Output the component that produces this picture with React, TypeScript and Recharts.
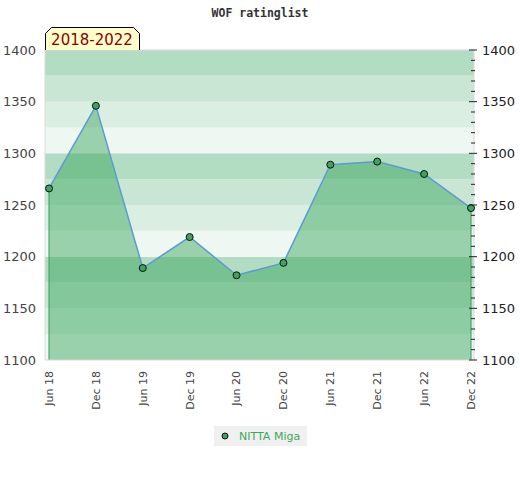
import React from "react";
import { ComposedChart, Area, XAxis, YAxis, ReferenceArea, ReferenceLine } from "recharts";

const categories = ["Jun 18", "Dec 18", "Jun 19", "Dec 19", "Jun 20", "Dec 20", "Jun 21", "Dec 21", "Jun 22", "Dec 22"];
const ratings = [1266, 1346, 1189, 1219, 1182, 1194, 1289, 1292, 1280, 1247];
const leftTicks = [1100, 1150, 1200, 1250, 1300, 1350, 1400];
const rightTicks = [
  1100, 1110, 1120, 1130, 1140, 1150, 1160, 1170, 1180, 1190,
  1200, 1210, 1220, 1230, 1240, 1250, 1260, 1270, 1280, 1290,
  1300, 1310, 1320, 1330, 1340, 1350, 1360, 1370, 1380, 1390, 1400,
];
const bandEdges = [1100, 1125, 1150, 1175, 1200, 1225, 1250, 1275, 1300, 1325, 1350, 1375, 1400];
const bandColors = ["#eff7f2", "#dbeee2", "#c8e6d3", "#b3ddc3"];
const seriesName = "NITTA Miga";
const periodLabel = "2018-2022";
const title = "WOF ratinglist";

const data = categories.map((cat, i) => ({ cat, rating: ratings[i] }));

const font = "'DejaVu Sans', sans-serif";

const LeftTick = (props: any) => {
  const { x, y, payload } = props;
  return (
    <text x={x - 9} y={y} dy="0.35em" textAnchor="end" fontSize={13} fill="#444" fontFamily={font}>
      {payload.value}
    </text>
  );
};

const RightTick = (props: any) => {
  const { x, y, payload } = props;
  const major = payload.value % 50 === 0;
  return (
    <g>
      <line x1={major ? x - 5 : x - 3} x2={major ? x + 3 : x + 1} y1={y} y2={y} stroke="#222" strokeWidth={1} />
      {major && (
        <text x={x + 8} y={y} dy="0.35em" textAnchor="start" fontSize={13} fill="#222" fontFamily={font}>
          {payload.value}
        </text>
      )}
    </g>
  );
};

const BottomTick = (props: any) => {
  const { x, y, payload } = props;
  const ty = y + 11;
  return (
    <text
      x={x}
      y={ty}
      dy="0.35em"
      textAnchor="end"
      fontSize={11}
      fill="#444"
      fontFamily={font}
      transform={`rotate(-90, ${x}, ${ty})`}
    >
      {payload.value}
    </text>
  );
};

export default function App() {
  const bands = bandEdges.slice(0, -1).map((lo, i) => ({ lo, hi: bandEdges[i + 1], color: bandColors[i % 4] }));
  return (
    <div style={{ position: "absolute", left: 0, top: 0, width: 520, height: 480, background: "#fff" }}>
      <ComposedChart width={520} height={480} data={data} margin={{ top: 50, right: 0, bottom: 70, left: 0 }}>
        <XAxis
          xAxisId="main"
          dataKey="cat"
          padding={{ left: 4, right: 3 }}
          height={50}
          interval={0}
          tickLine={false}
          tickSize={0}
          tickMargin={0}
          axisLine={{ stroke: "#d9d9d9" }}
          tick={<BottomTick />}
        />
        <XAxis xAxisId="band" dataKey="cat" hide height={0} />
        <YAxis
          yAxisId="left"
          orientation="left"
          width={45}
          domain={[1100, 1400]}
          ticks={leftTicks}
          tickLine={false}
          tickSize={0}
          tickMargin={0}
          axisLine={{ stroke: "#d9d9d9" }}
          tick={<LeftTick />}
        />
        <YAxis
          yAxisId="right"
          orientation="right"
          width={46}
          domain={[1100, 1400]}
          ticks={rightTicks}
          interval={0}
          tickLine={false}
          tickSize={0}
          tickMargin={0}
          axisLine={{ stroke: "#d9d9d9" }}
          tick={<RightTick />}
        />
        {bands.map((b) => (
          <ReferenceArea
            key={b.lo}
            xAxisId="band"
            yAxisId="left"
            y1={b.lo}
            y2={b.hi}
            fill={b.color}
            fillOpacity={1}
            stroke="none"
          />
        ))}
        <ReferenceLine xAxisId="band" yAxisId="left" y={1400} stroke="#d9d9d9" />
        <Area
          xAxisId="band"
          yAxisId="right"
          dataKey="rating"
          stroke="none"
          fill="none"
          dot={false}
          activeDot={false}
          legendType="none"
          isAnimationActive={false}
        />
        <Area
          xAxisId="main"
          yAxisId="left"
          type="linear"
          dataKey="rating"
          name={seriesName}
          stroke="#5b9bd5"
          strokeWidth={1.5}
          fill="#30a156"
          fillOpacity={0.45}
          dot={{ r: 3.5, fill: "#3ea35f", stroke: "#111", strokeWidth: 1, fillOpacity: 1 }}
          activeDot={false}
          isAnimationActive={false}
        />
        <ReferenceLine
          xAxisId="main"
          yAxisId="left"
          segment={[{ x: categories[0], y: 1100 }, { x: categories[0], y: ratings[0] }]}
          stroke="#3a9a5a"
        />
        <ReferenceLine
          xAxisId="main"
          yAxisId="left"
          segment={[
            { x: categories[categories.length - 1], y: 1100 },
            { x: categories[categories.length - 1], y: ratings[ratings.length - 1] },
          ]}
          stroke="#3a9a5a"
        />
      </ComposedChart>
      <svg width={520} height={60} style={{ position: "absolute", left: 0, top: 0, pointerEvents: "none" }}>
        <text x={260} y={17} textAnchor="middle" fontSize={11.5} fontWeight="bold" fill="#333" fontFamily="'DejaVu Sans Mono', monospace">
          {title}
        </text>
        <path d="M45.5,50 L45.5,33.5 L51.5,27.5 L133.5,27.5 L139.5,33.5 L139.5,50" fill="#ffffcc" stroke="#000" strokeWidth={1} />
        <text x={92} y={45} textAnchor="middle" fontSize={15} fill="#8b0000" fontFamily={font}>
          {periodLabel}
        </text>
      </svg>
      <div
        style={{
          position: "absolute",
          left: 214,
          top: 426,
          width: 93,
          height: 20,
          background: "#f0f0f0",
          display: "flex",
          alignItems: "center",
          fontFamily: font,
          fontSize: 11,
          color: "#3aaa5a",
        }}
      >
        <svg width={25} height={20}>
          <circle cx={11} cy={10} r={3} fill="#3ea35f" stroke="#111" strokeWidth={1} />
        </svg>
        <span>{seriesName}</span>
      </div>
    </div>
  );
}
